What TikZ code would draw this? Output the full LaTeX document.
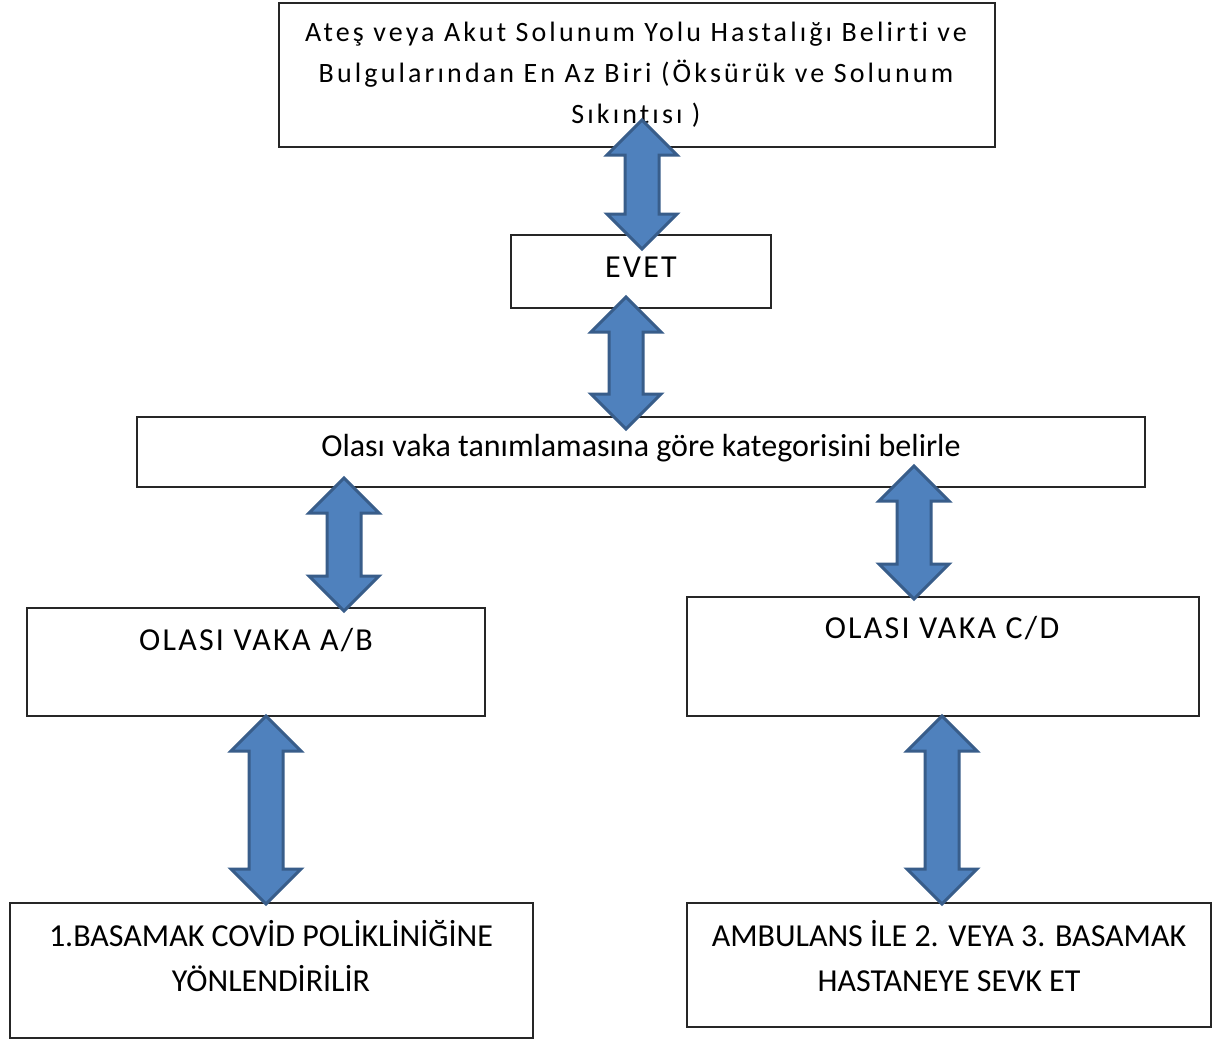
\documentclass[tikz,border=0pt]{standalone}
\usepackage{fontspec}
\setmainfont[Ligatures=NoCommon]{Carlito}
\usetikzlibrary{calc}
\definecolor{arrfill}{HTML}{4F81BD}
\definecolor{arrline}{HTML}{385D8A}
\tikzset{
  box/.style={draw=black!85, line width=1.2pt, rectangle, inner sep=0pt},
  txt/.style={font=\fontsize{32}{45}\selectfont, align=center, inner sep=0pt},
  stxt/.style={font=\fontsize{32}{41}\selectfont\addfontfeatures{LetterSpace=7}, align=center, inner sep=0pt},
  ttxt/.style={font=\fontsize{28}{41}\selectfont\addfontfeatures{LetterSpace=11.2}, align=center, inner sep=0pt},
  blockarrow/.style={fill=arrfill, draw=arrline, line width=3pt, line join=miter}
}
\newcommand{\dblarrow}[2]{%
  \path[blockarrow] let \p1=(#1), \p2=(#2) in
    (\x1,\y1) -- (\x1+35pt,\y1-35pt) -- (\x1+17pt,\y1-35pt) -- (\x1+17pt,\y2+35pt)
    -- (\x1+35pt,\y2+35pt) -- (\x1,\y2) -- (\x1-35pt,\y2+35pt) -- (\x1-17pt,\y2+35pt)
    -- (\x1-17pt,\y1-35pt) -- (\x1-35pt,\y1-35pt) -- cycle;}
\begin{document}
\begin{tikzpicture}[x=1pt,y=-1pt]
\useasboundingbox (0,0) rectangle (1213,1039);
\fill[white] (0,0) rectangle (1213,1039);
% boxes
\node[box, minimum width=716pt, minimum height=144pt] (top) at (637,75) {};
\node[box, minimum width=260pt, minimum height=73pt] (evet) at (641,271.5) {};
\node[box, minimum width=1008pt, minimum height=70pt] (olasi) at (641,452) {};
\node[box, minimum width=458pt, minimum height=108pt] (ab) at (256,662) {};
\node[box, minimum width=512pt, minimum height=119pt] (cd) at (943,656.5) {};
\node[box, minimum width=523pt, minimum height=135pt] (bl) at (271.5,970.5) {};
\node[box, minimum width=524pt, minimum height=124pt] (br) at (949,965) {};
% texts
\node[ttxt] (toptxt) at (636,75) {Ateş veya Akut Solunum Yolu Hastalığı Belirti ve\\Bulgularından En Az Biri (Öksürük ve Solunum\\Sıkıntısı )};
\node[stxt] (evettxt) at (641,267) {EVET};
\node[txt] (olasitxt) at (641,448) {Olası vaka tanımlamasına göre kategorisini belirle};
\node[stxt] (abtxt) at (256,640) {OLASI VAKA A/B};
\node[stxt] (cdtxt) at (942,628) {OLASI VAKA C/D};
\node[txt] (bltxt) at (271,956.5) {1.BASAMAK COVİD POLİKLİNİĞİNE\\YÖNLENDİRİLİR};
\node[txt] (brtxt) at (949,956.5) {AMBULANS İLE 2. VEYA 3. BASAMAK\\HASTANEYE SEVK ET};
% arrow end points
\coordinate (a1t) at (642,120); \coordinate (a1b) at (642,249);
\coordinate (a2t) at (626,297); \coordinate (a2b) at (626,429);
\coordinate (a3t) at (344,478); \coordinate (a3b) at (344,611);
\coordinate (a4t) at (914,466); \coordinate (a4b) at (914,599);
\coordinate (a5t) at (266,716); \coordinate (a5b) at (266,904);
\coordinate (a6t) at (942,716); \coordinate (a6b) at (942,904);
\dblarrow{a1t}{a1b}
\dblarrow{a2t}{a2b}
\dblarrow{a3t}{a3b}
\dblarrow{a4t}{a4b}
\dblarrow{a5t}{a5b}
\dblarrow{a6t}{a6b}
\end{tikzpicture}
\end{document}
